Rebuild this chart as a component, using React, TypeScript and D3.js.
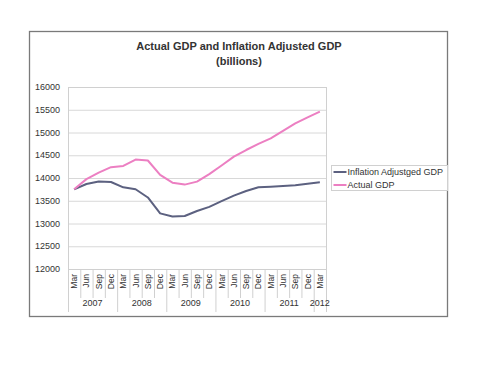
import { useRef, useEffect } from 'react';
import * as d3 from 'd3';

const quarters = ['Mar', 'Jun', 'Sep', 'Dec'];
const years = ['2007', '2008', '2009', '2010', '2011', '2012'];

// Mar 2007 .. Mar 2012, one value per quarter
const monthLabels = [
  'Mar', 'Jun', 'Sep', 'Dec',
  'Mar', 'Jun', 'Sep', 'Dec',
  'Mar', 'Jun', 'Sep', 'Dec',
  'Mar', 'Jun', 'Sep', 'Dec',
  'Mar', 'Jun', 'Sep', 'Dec',
  'Mar',
];
const yearOfPoint = [
  '2007', '2007', '2007', '2007',
  '2008', '2008', '2008', '2008',
  '2009', '2009', '2009', '2009',
  '2010', '2010', '2010', '2010',
  '2011', '2011', '2011', '2011',
  '2012',
];

const inflationAdjusted = [
  13750, 13868, 13925, 13912, 13795, 13752, 13572, 13222, 13152, 13165,
  13275, 13365, 13490, 13612, 13714, 13795, 13810, 13824, 13840, 13875, 13905,
];
const actualGdp = [
  13752, 13975, 14118, 14238, 14265, 14405, 14385, 14068, 13897, 13855,
  13920, 14085, 14275, 14470, 14615, 14748, 14872, 15035, 15200, 15333, 15458,
];

const yTicks = [12000, 12500, 13000, 13500, 14000, 14500, 15000, 15500, 16000];

const seriesList = [
  { name: 'Inflation Adjustged GDP', values: inflationAdjusted, color: '#5c6180' },
  { name: 'Actual GDP', values: actualGdp, color: '#ec7fc2' },
];

const WIDTH = 480;
const HEIGHT = 369;
const FONT = 'Arial, "Liberation Sans", sans-serif';

const GdpChart = () => {
  const chartRef = useRef<SVGSVGElement | null>(null);

  useEffect(() => {
    const svg = d3.select(chartRef.current);
    svg.selectAll('*').remove();

    const PLOT = { LEFT: 68, RIGHT: 326, TOP: 87, BOTTOM: 269 };

    svg.append('rect')
      .attr('width', WIDTH)
      .attr('height', HEIGHT)
      .attr('fill', '#fff');

    // chart frame
    svg.append('rect')
      .attr('x', 29.5)
      .attr('y', 31.5)
      .attr('width', 418)
      .attr('height', 285)
      .attr('fill', 'none')
      .attr('stroke', '#7a7a7a')
      .attr('stroke-width', 1.3);

    const idx = monthLabels.map((_, i) => i);
    const xScale = d3.scaleBand<number>()
      .domain(idx)
      .range([PLOT.LEFT, PLOT.RIGHT]);
    const xMid = (i: number) => (xScale(i) as number) + xScale.bandwidth() / 2;

    const yScale = d3.scaleLinear()
      .domain([12000, 16000])
      .range([PLOT.BOTTOM, PLOT.TOP]);

    // gridlines
    svg.append('g')
      .selectAll('line')
      .data(yTicks)
      .join('line')
      .attr('x1', PLOT.LEFT)
      .attr('x2', PLOT.RIGHT)
      .attr('y1', d => yScale(d) + 0.5)
      .attr('y2', d => yScale(d) + 0.5)
      .attr('stroke', '#d8d8d8')
      .attr('stroke-width', 1);

    svg.append('rect')
      .attr('x', PLOT.LEFT + 0.5)
      .attr('y', PLOT.TOP + 0.5)
      .attr('width', PLOT.RIGHT - PLOT.LEFT)
      .attr('height', PLOT.BOTTOM - PLOT.TOP)
      .attr('fill', 'none')
      .attr('stroke', '#d0d0d0');

    // y labels
    svg.append('g')
      .selectAll('text')
      .data(yTicks)
      .join('text')
      .attr('x', 60)
      .attr('y', d => yScale(d))
      .attr('dy', '0.35em')
      .attr('text-anchor', 'end')
      .attr('font-family', FONT)
      .attr('font-size', 9)
      .attr('fill', '#333')
      .text(d => d);

    // category separators: short between quarters, long between years
    const bounds = d3.range(monthLabels.length + 1);
    svg.append('g')
      .selectAll('line')
      .data(bounds)
      .join('line')
      .attr('x1', i => (i < monthLabels.length ? (xScale(i) as number) : PLOT.RIGHT) + 0.5)
      .attr('x2', i => (i < monthLabels.length ? (xScale(i) as number) : PLOT.RIGHT) + 0.5)
      .attr('y1', PLOT.BOTTOM)
      .attr('y2', i => (i % quarters.length === 0 || i === monthLabels.length ? 312 : 298))
      .attr('stroke', '#d0d0d0');

    // quarter labels
    svg.append('g')
      .selectAll('text')
      .data(monthLabels)
      .join('text')
      .attr('transform', (_, i) => `translate(${xMid(i)}, 274) rotate(-90)`)
      .attr('text-anchor', 'end')
      .attr('dy', '0.35em')
      .attr('font-family', FONT)
      .attr('font-size', 8.5)
      .attr('fill', '#333')
      .text(d => d);

    // year labels
    svg.append('g')
      .selectAll('text')
      .data(years)
      .join('text')
      .attr('x', yr => {
        const members = idx.filter(i => yearOfPoint[i] === yr);
        return (xMid(members[0]) + xMid(members[members.length - 1])) / 2;
      })
      .attr('y', 306)
      .attr('text-anchor', 'middle')
      .attr('font-family', FONT)
      .attr('font-size', 9)
      .attr('fill', '#333')
      .text(d => d);

    const line = d3.line<number>()
      .x((_, i) => xMid(i))
      .y(d => yScale(d));

    seriesList.forEach(s => {
      svg.append('path')
        .attr('d', line(s.values))
        .attr('fill', 'none')
        .attr('stroke', s.color)
        .attr('stroke-width', 2)
        .attr('stroke-linejoin', 'round');
    });

    // legend
    const legend = svg.append('g').attr('transform', 'translate(331.5, 165.5)');
    legend.append('rect')
      .attr('width', 116)
      .attr('height', 25)
      .attr('fill', '#fff')
      .attr('stroke', '#d0d0d0');
    seriesList.forEach((s, i) => {
      const y = 6.5 + i * 13;
      legend.append('line')
        .attr('x1', 2)
        .attr('x2', 15)
        .attr('y1', y)
        .attr('y2', y)
        .attr('stroke', s.color)
        .attr('stroke-width', 2);
      legend.append('text')
        .attr('x', 16)
        .attr('y', y)
        .attr('dy', '0.35em')
        .attr('font-family', FONT)
        .attr('font-size', 9)
        .attr('fill', '#333')
        .text(s.name);
    });

    // title
    svg.append('text')
      .attr('x', 239)
      .attr('y', 50)
      .attr('text-anchor', 'middle')
      .attr('font-family', FONT)
      .attr('font-size', 11)
      .attr('font-weight', 'bold')
      .attr('fill', '#333')
      .text('Actual GDP and Inflation Adjusted GDP');
    svg.append('text')
      .attr('x', 239)
      .attr('y', 65)
      .attr('text-anchor', 'middle')
      .attr('font-family', FONT)
      .attr('font-size', 11)
      .attr('font-weight', 'bold')
      .attr('fill', '#333')
      .text('(billions)');
  }, []);

  return (
    <div style={{ position: 'absolute', left: 0, top: 0 }}>
      <svg ref={chartRef} width={WIDTH} height={HEIGHT} style={{ display: 'block' }} />
    </div>
  );
};

export default function App() {
  return <GdpChart />;
}
